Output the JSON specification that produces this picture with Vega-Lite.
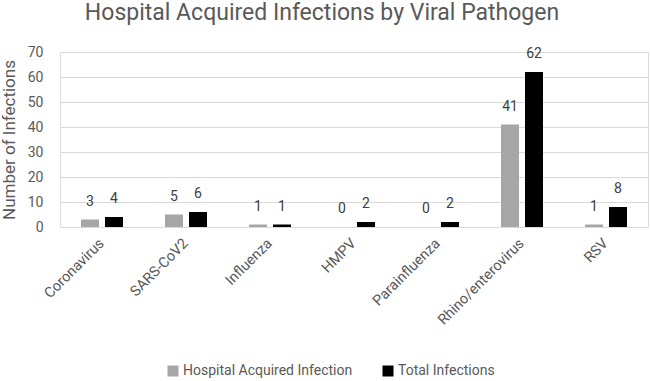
{
  "$schema": "https://vega.github.io/schema/vega-lite/v6.json",
  "autosize": "none",
  "width": 588,
  "height": 175,
  "padding": {"left": 60, "top": 52, "right": 2, "bottom": 154},
  "background": "white",
  "title": {
    "text": "Hospital Acquired Infections by Viral Pathogen",
    "font": "Roboto",
    "fontSize": 23,
    "fontWeight": "normal",
    "color": "#595959",
    "baseline": "alphabetic",
    "dx": -32,
    "offset": 2
  },
  "data": {
    "values": [
      {"pathogen": "Coronavirus", "series": "Hospital Acquired Infection", "value": 3},
      {"pathogen": "Coronavirus", "series": "Total Infections", "value": 4},
      {"pathogen": "SARS-CoV2", "series": "Hospital Acquired Infection", "value": 5},
      {"pathogen": "SARS-CoV2", "series": "Total Infections", "value": 6},
      {"pathogen": "Influenza", "series": "Hospital Acquired Infection", "value": 1},
      {"pathogen": "Influenza", "series": "Total Infections", "value": 1},
      {"pathogen": "HMPV", "series": "Hospital Acquired Infection", "value": 0},
      {"pathogen": "HMPV", "series": "Total Infections", "value": 2},
      {"pathogen": "Parainfluenza", "series": "Hospital Acquired Infection", "value": 0},
      {"pathogen": "Parainfluenza", "series": "Total Infections", "value": 2},
      {"pathogen": "Rhino/enterovirus", "series": "Hospital Acquired Infection", "value": 41},
      {"pathogen": "Rhino/enterovirus", "series": "Total Infections", "value": 62},
      {"pathogen": "RSV", "series": "Hospital Acquired Infection", "value": 1},
      {"pathogen": "RSV", "series": "Total Infections", "value": 8}
    ]
  },
  "encoding": {
    "x": {
      "field": "pathogen",
      "type": "nominal",
      "sort": ["Coronavirus", "SARS-CoV2", "Influenza", "HMPV", "Parainfluenza", "Rhino/enterovirus", "RSV"],
      "scale": {"paddingInner": 0.5, "paddingOuter": 0.25},
      "axis": {
        "title": null,
        "labelAngle": -45,
        "labelAlign": "right",
        "labelBaseline": "middle",
        "labelFont": "Roboto",
        "labelFontSize": 14.5,
        "labelColor": "#595959",
        "labelPadding": 14,
        "ticks": false,
        "domainColor": "#d9d9d9",
        "domainWidth": 1,
        "grid": false
      }
    },
    "xOffset": {
      "field": "series",
      "type": "nominal",
      "sort": ["Hospital Acquired Infection", "Total Infections"],
      "scale": {"paddingInner": 0.25, "paddingOuter": 0}
    },
    "y": {
      "field": "value",
      "type": "quantitative",
      "scale": {"domain": [0, 70]},
      "axis": {
        "title": "Number of Infections",
        "titleFont": "Roboto",
        "titleFontSize": 17,
        "titleFontWeight": "normal",
        "titleColor": "#595959",
        "titlePadding": 9,
        "values": [0, 10, 20, 30, 40, 50, 60, 70],
        "labelFont": "Roboto",
        "labelFontSize": 14,
        "labelColor": "#595959",
        "labelPadding": 17,
        "ticks": false,
        "domain": false,
        "gridColor": "#d9d9d9",
        "gridWidth": 1
      }
    }
  },
  "layer": [
    {
      "mark": {"type": "bar"},
      "encoding": {
        "color": {
          "field": "series",
          "type": "nominal",
          "sort": ["Hospital Acquired Infection", "Total Infections"],
          "scale": {"range": ["#a6a6a6", "#000000"]},
          "legend": {
            "title": null,
            "orient": "none",
            "direction": "horizontal",
            "legendX": 106,
            "legendY": 312,
            "symbolType": "square",
            "symbolSize": 121,
            "symbolStrokeWidth": 0,
            "labelFont": "Roboto",
            "labelFontSize": 14,
            "labelColor": "#595959",
            "labelLimit": 300,
            "columnPadding": 28,
            "labelOffset": 3
          }
        }
      }
    },
    {
      "mark": {"type": "text", "baseline": "middle", "dy": -18, "font": "Roboto", "fontSize": 14, "color": "#404040"},
      "encoding": {"text": {"field": "value", "type": "quantitative"}}
    }
  ]
}
